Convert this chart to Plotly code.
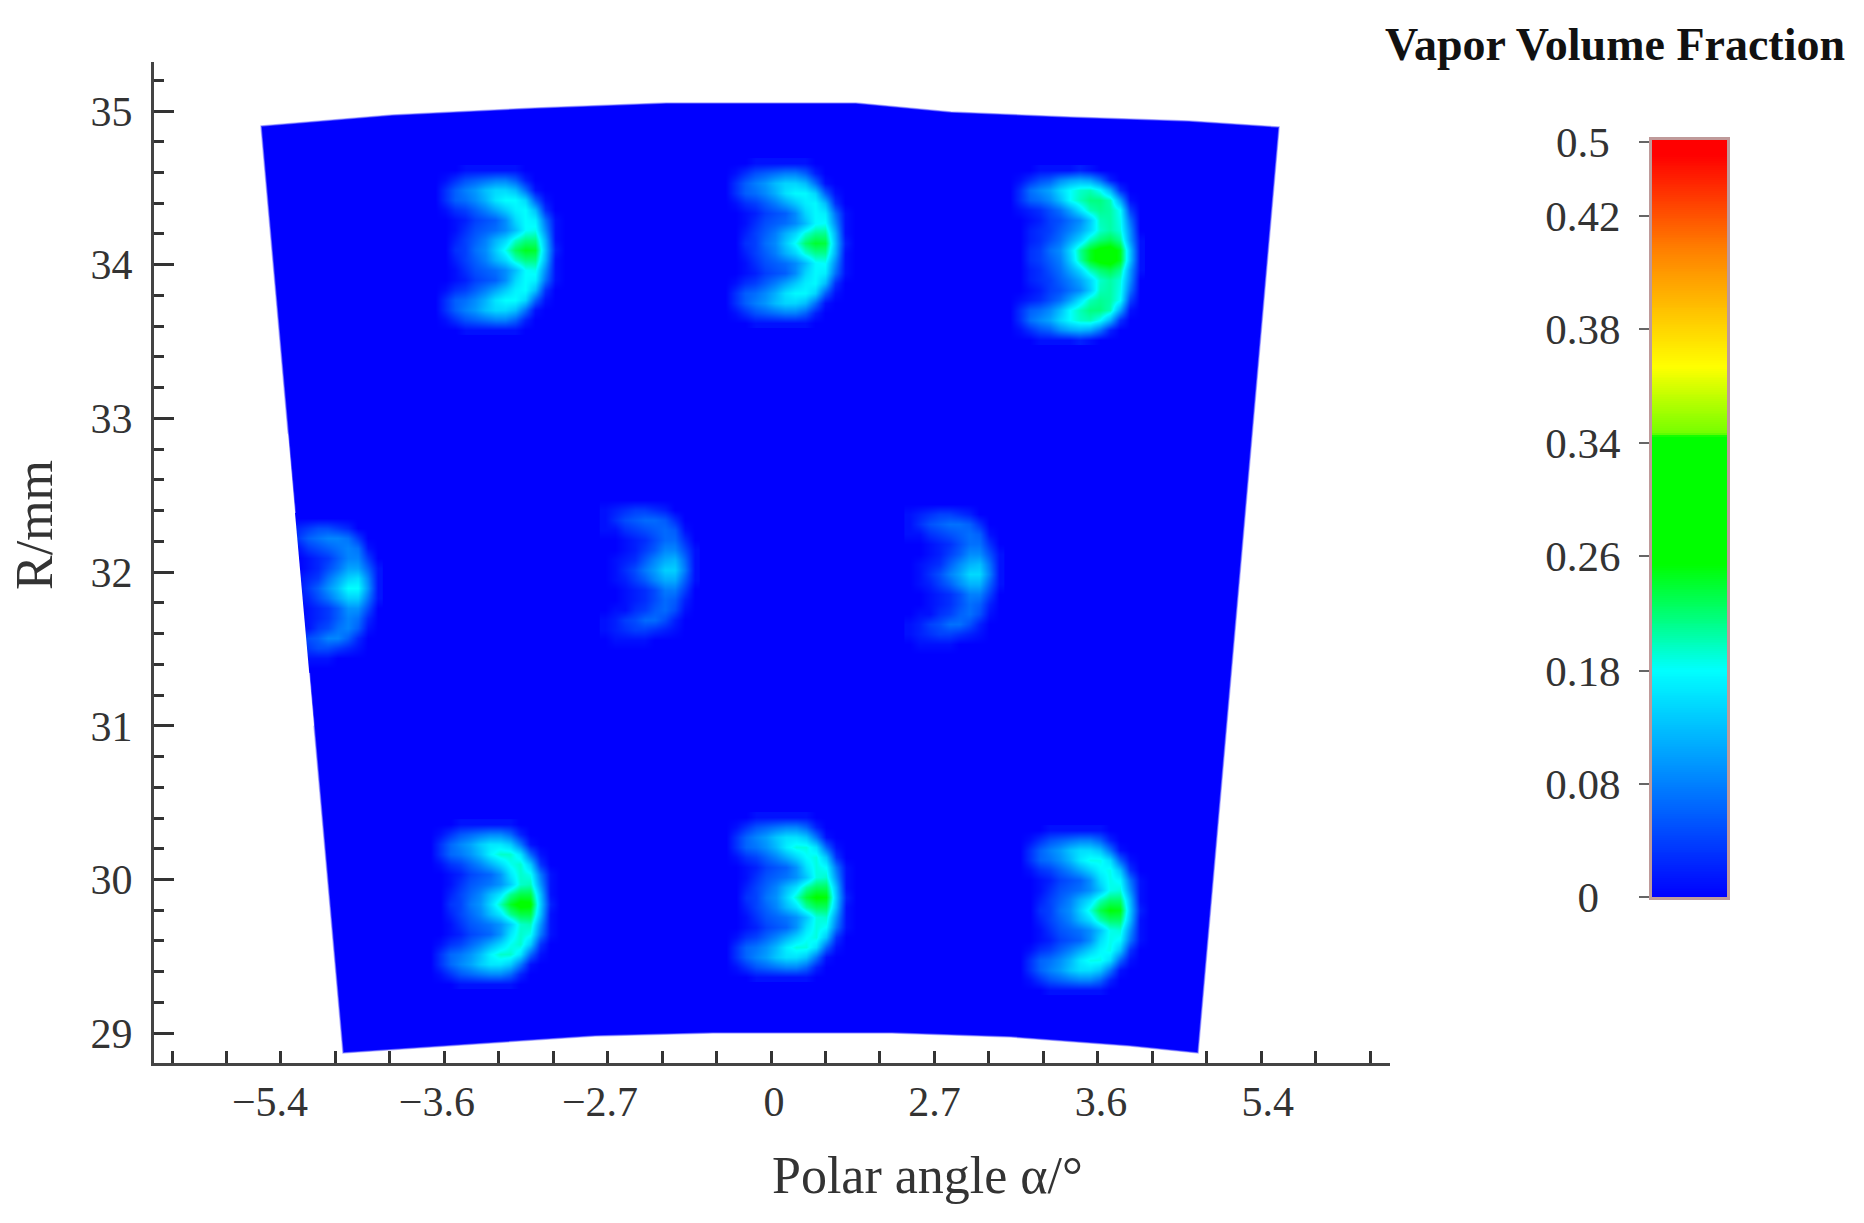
import numpy as np
import plotly.graph_objects as go

# Axis content
x_tick_text = ["\u22125.4", "\u22123.6", "\u22122.7", "0", "2.7", "3.6", "5.4"]
x_tick_pos = [-3.067, -2.045, -1.047, 0.018, 1.0, 2.02, 3.04]
y_ticks = [29, 30, 31, 32, 33, 34, 35]

# Calculation-domain outline (polar-angle axis units, R in mm)
sector_x = [-3.122, -2.320, -1.445, -0.643, 0.520, 1.102, 1.830, 2.559, 3.110,
            2.614, 2.198, 1.469, 0.741, -0.355, -1.077, -1.806, -2.620]
sector_y = [34.902, 34.974, 35.020, 35.052, 35.052, 34.993, 34.961, 34.935, 34.896,
            28.871, 28.917, 28.975, 29.001, 29.001, 28.982, 28.930, 28.871]
outside_x = [-2.957, -2.798, -3.3, -3.3]
outside_y = [32.9, 31.0, 31.0, 32.9]

# Colour bar
bar_labels = ["0", "0.08", "0.18", "0.26", "0.34", "0.38", "0.42", "0.5"]
bar_values = [0, 0.08, 0.18, 0.26, 0.34, 0.38, 0.42, 0.5]
bar_heights = [0, 0.149, 0.299, 0.450, 0.600, 0.750, 0.900, 0.997]
bar_pad = [2, 0, 0, 0, 0, 0, 0, 1]
bar_colors = [[0, "rgb(0,0,255)"], [0.149, "rgb(0,128,255)"], [0.299, "rgb(0,255,255)"],
              [0.366, "rgb(0,255,128)"], [0.44, "rgb(0,255,0)"], [0.608, "rgb(0,255,0)"],
              [0.612, "rgb(115,255,0)"], [0.70, "rgb(255,255,0)"], [0.855, "rgb(255,128,0)"],
              [0.98, "rgb(255,0,0)"], [1, "rgb(255,0,0)"]]

# Vapour fraction x100 read from the crescents, one row per 10 px of the picture
medium = [
    [0, 0, 0, 1, 1, 1, 1, 1, 1, 0, 0, 0, 0, 0],
    [0, 1, 3, 5, 6, 7, 8, 8, 6, 2, 0, 0, 0, 0],
    [0, 3, 6, 8, 10, 13, 15, 15, 13, 7, 1, 0, 0, 0],
    [0, 3, 6, 7, 9, 12, 16, 18, 18, 15, 6, 1, 0, 0],
    [0, 1, 3, 4, 6, 8, 11, 14, 17, 18, 13, 3, 0, 0],
    [0, 0, 1, 2, 4, 5, 6, 9, 15, 18, 17, 7, 1, 0],
    [0, 0, 1, 3, 5, 6, 7, 9, 13, 18, 18.5, 9, 1, 0],
    [0, 0, 2, 4, 6, 8, 12, 15, 19.5, 21.5, 21.5, 12, 1, 0],
    [0, 0, 3, 4, 7, 9, 14, 18.5, 22.5, 24.5, 24, 13, 2, 0],
    [0, 0, 2, 4, 6, 8, 12, 15, 19.5, 21.5, 21.5, 12, 1, 0],
    [0, 0, 1, 3, 5, 6, 7, 9, 13, 18, 18.5, 9, 1, 0],
    [0, 0, 1, 2, 4, 5, 6, 9, 15, 18, 17, 7, 1, 0],
    [0, 1, 3, 4, 6, 8, 11, 14, 17, 18, 13, 3, 0, 0],
    [0, 3, 6, 7, 9, 12, 16, 18, 18, 15, 6, 1, 0, 0],
    [0, 3, 6, 8, 10, 13, 15, 15, 13, 7, 1, 0, 0, 0],
    [0, 1, 3, 5, 6, 7, 8, 8, 6, 2, 0, 0, 0, 0],
    [0, 0, 0, 1, 1, 1, 1, 1, 1, 0, 0, 0, 0, 0],
]
strong = [
    [0, 0, 0, 1, 1, 1, 1, 2, 1, 0, 0, 0, 0, 0],
    [0, 1, 3, 5, 6, 9, 11, 12, 11, 7, 2, 0, 0, 0],
    [0, 3, 7, 9, 11, 15, 18, 19.5, 20, 18, 12, 3, 0, 0],
    [0, 3, 6, 7, 9, 13, 18, 20, 21.5, 21.5, 20, 11, 1, 0],
    [0, 1, 2, 3, 5, 7, 11, 16, 20, 21, 20.5, 18, 4, 0],
    [0, 0, 1, 2, 4, 5, 7, 9, 14, 20, 20.5, 18.5, 7, 0],
    [0, 0, 2, 3, 4, 6, 8, 11, 15, 19.5, 20.5, 19, 9, 0],
    [0, 0, 2, 3, 5, 7, 11, 15, 20, 22, 23, 21, 10, 1],
    [0, 0, 3, 4, 7, 9, 15, 21, 24.5, 26.5, 27, 24.5, 13, 1],
    [0, 0, 3, 4, 6, 8, 14, 20.5, 24.5, 26.5, 27, 24.5, 13, 1],
    [0, 0, 2, 3, 5, 7, 11, 15, 20, 22, 23, 21, 10, 1],
    [0, 0, 2, 3, 4, 6, 8, 11, 15, 19.5, 20.5, 19, 9, 0],
    [0, 0, 1, 2, 4, 5, 7, 9, 14, 20, 20.5, 18.5, 7, 0],
    [0, 1, 2, 3, 5, 7, 11, 16, 20, 21, 20.5, 18, 4, 0],
    [0, 3, 6, 7, 9, 13, 18, 20, 21.5, 21.5, 20, 11, 1, 0],
    [0, 3, 7, 9, 11, 15, 18, 19.5, 20, 18, 12, 3, 0, 0],
    [0, 1, 3, 5, 6, 9, 11, 12, 11, 7, 2, 0, 0, 0],
    [0, 0, 0, 1, 1, 1, 1, 2, 1, 0, 0, 0, 0, 0],
]
weak = [
    [0, 0, 0, 0, 0, 0, 0, 0, 0, 0],
    [1, 2, 3, 4, 4, 3, 2, 0, 0, 0],
    [1, 3, 5, 6, 7, 7, 6, 3, 0, 0],
    [1, 1, 3, 4, 5, 6, 7, 6, 1, 0],
    [0, 0, 1, 2, 3, 5, 7, 7, 3, 0],
    [0, 0, 1, 2, 4, 6, 9, 9, 5, 1],
    [0, 1, 2, 3, 6, 9, 12, 13, 7, 1],
    [0, 1, 3, 5, 8, 11, 15, 15, 8, 1],
    [0, 1, 2, 4, 6, 9, 12, 12, 6, 1],
    [0, 0, 1, 2, 3, 5, 8, 8, 4, 0],
    [0, 0, 1, 2, 3, 5, 7, 6, 2, 0],
    [0, 1, 1, 3, 4, 6, 7, 5, 1, 0],
    [1, 2, 4, 5, 7, 7, 5, 2, 0, 0],
    [1, 2, 3, 4, 4, 3, 2, 1, 0, 0],
    [0, 1, 1, 1, 1, 0, 0, 0, 0, 0],
    [0, 0, 0, 0, 0, 0, 0, 0, 0, 0],
]
shapes = {"medium": (medium, 9, 8), "strong": (strong, 10, 8.5), "weak": (weak, 6.5, 7)}

# One entry per crescent
cres_shape = ["medium", "medium", "strong", "weak", "weak", "weak", "medium", "medium", "medium"]
cres_x = [-1.505, 0.270, 2.075, -2.560, -0.620, 1.245, -1.535, 0.275, 2.075]
cres_y = [34.096, 34.141, 34.063, 31.897, 32.014, 31.988, 29.840, 29.886, 29.801]
cres_gain = [1.0, 0.98, 1.0, 1.2, 0.95, 1.0, 1.08, 1.05, 1.03]

W, H = 1864, 1223
INK = "#333333"
FONT = "Liberation Serif"
STEP_X = 10 / 163.35
STEP_Y = 10 / 153.7
AX_L, AX_R, AX_T, AX_B = 154, 1390, 62, 1063
BAR_L, BAR_R, BAR_T, BAR_B = 1652, 1727, 140, 897
BAR_LEVELS = 400


def px(x):
    return x / W


def py(y):
    return 1 - y / H


fig = go.Figure()
for name, cx, cy, gain in zip(cres_shape, cres_x, cres_y, cres_gain):
    grid, col0, row0 = shapes[name]
    z = np.array(grid, dtype=float) * gain / 100
    xs = cx + (np.arange(z.shape[1]) - col0) * STEP_X
    ys = cy - (np.arange(z.shape[0]) - row0) * STEP_Y
    fig.add_trace(go.Heatmap(x=xs, y=ys, z=np.interp(z, bar_values, bar_heights),
                             coloraxis="coloraxis", zsmooth="best", hoverinfo="skip"))

fig.add_trace(go.Scatter(x=outside_x + outside_x[:1], y=outside_y + outside_y[:1], mode="lines",
                         fill="toself", fillcolor="white", line=dict(width=0, color="white"),
                         hoverinfo="skip", showlegend=False))

# Colour bar drawn on its own small axes so that its labels can sit on the left
levels = (np.arange(BAR_LEVELS) + 0.5) / BAR_LEVELS
fig.add_trace(go.Heatmap(x=[0, 1], y=levels, z=np.column_stack([levels, levels]),
                         xaxis="x2", yaxis="y2", coloraxis="coloraxis", zsmooth=False, hoverinfo="skip"))

path = "M " + " L ".join(f"{a},{b}" for a, b in zip(sector_x, sector_y)) + " Z"
fig.add_shape(type="path", path=path, xref="x", yref="y", layer="below",
              fillcolor="#0000ff", line=dict(color="rgba(130,130,255,0.6)", width=1.5))

axis_common = dict(showline=True, linewidth=3, linecolor="#444444", showgrid=False, zeroline=False,
                   automargin=False, tickmode="array", tickfont=dict(family=FONT, size=42, color=INK))
fig.update_layout(
    width=W, height=H, autosize=False, showlegend=False,
    paper_bgcolor="white", plot_bgcolor="white",
    margin=dict(l=0, r=0, t=0, b=0, autoexpand=False),
    font=dict(family=FONT, color=INK),
    xaxis=dict(domain=[px(AX_L), px(AX_R)], range=[-3.777, 3.789], tickvals=x_tick_pos,
               ticktext=x_tick_text, ticks="", ticklabelstandoff=0,
               minor=dict(ticks="inside", ticklen=12, tickwidth=3, tickcolor="#333333",
                          tick0=0, dtick=1 / 3, showgrid=False), **axis_common),
    yaxis=dict(domain=[py(AX_B), py(AX_T)], range=[28.806, 35.319], tickvals=y_ticks, ticks="inside",
               ticklen=20, tickwidth=3, tickcolor="#333333", ticklabelstandoff=10,
               minor=dict(ticks="inside", ticklen=10, tickwidth=3, tickcolor="#333333",
                          tick0=29, dtick=0.2, showgrid=False), **axis_common),
    xaxis2=dict(domain=[px(BAR_L), px(BAR_R)], range=[-0.5, 1.5], anchor="y2", showticklabels=False,
                ticks="", showgrid=False, zeroline=False, showline=True, mirror=True, linewidth=3,
                automargin=False, linecolor="rgba(170,120,120,0.75)"),
    yaxis2=dict(domain=[py(BAR_B), py(BAR_T)], range=[0, 1], anchor="x2", tickmode="array",
                tickvals=bar_heights,
                ticktext=[t + "\u00a0" * n for t, n in zip(bar_labels, bar_pad)],
                ticks="outside", ticklen=10, tickwidth=2, tickcolor="#666666", ticklabelstandoff=10,
                showgrid=False, zeroline=False, showline=True, mirror=True, linewidth=3,
                automargin=False, linecolor="rgba(170,120,120,0.75)",
                tickfont=dict(family=FONT, size=43, color=INK)),
    coloraxis=dict(cmin=0, cmax=1, colorscale=bar_colors, showscale=False),
    annotations=[
        dict(text="Polar angle \u03b1/\u00b0", xref="paper", yref="paper",
             x=px(927), y=py(1175), showarrow=False,
             font=dict(family=FONT, size=52, color=INK), xanchor="center", yanchor="middle"),
        dict(text="R/mm", xref="paper", yref="paper", textangle=-90,
             x=px(34), y=py(525), showarrow=False,
             font=dict(family=FONT, size=52, color=INK), xanchor="center", yanchor="middle"),
        dict(text="<b>Vapor Volume Fraction</b>", xref="paper", yref="paper",
             x=px(1615), y=py(44), showarrow=False,
             font=dict(family=FONT, size=46, color="#111111"), xanchor="center", yanchor="middle"),
    ],
)

fig.write_html("out.html", post_script="document.body.style.margin='0';",
               config=dict(displayModeBar=False))
